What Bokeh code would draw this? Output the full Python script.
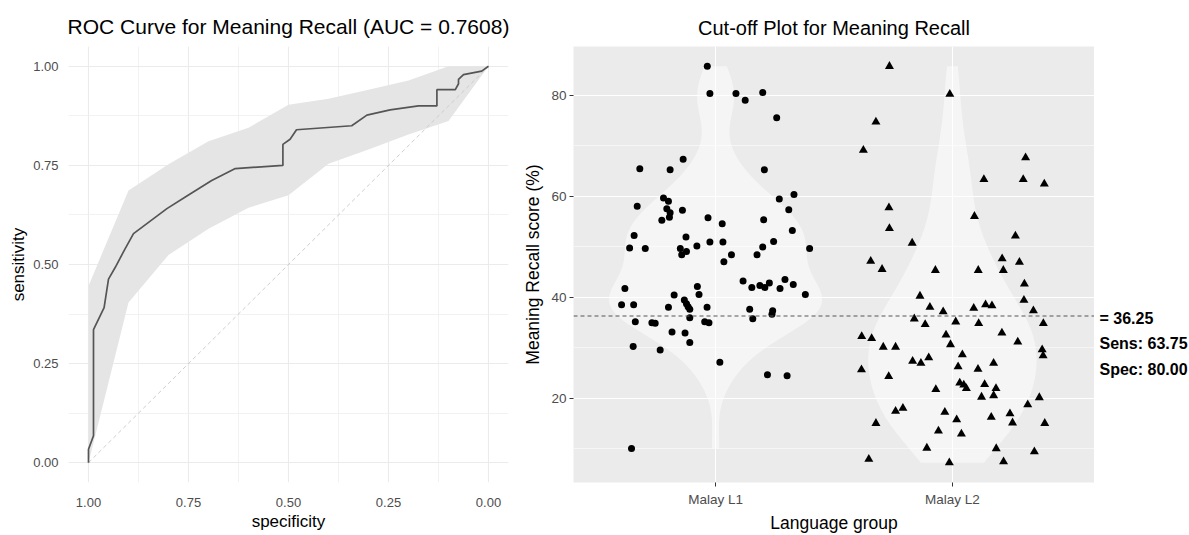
import numpy as np
from bokeh.plotting import figure
from bokeh.models import Range1d, FixedTicker, SingleIntervalTicker, Span, Label, NumeralTickFormatter
from bokeh.layouts import row
from bokeh.embed import file_html
from bokeh.resources import INLINE

FONT = "Liberation Sans"

# ---------------- ROC data ----------------
roc_spec = [1.0, 1.0, 0.9875, 0.9875, 0.961, 0.95, 0.933, 0.911, 0.8875, 0.804, 0.754, 0.692, 0.633,
            0.514, 0.514, 0.496, 0.48, 0.342, 0.304, 0.246, 0.175, 0.129, 0.129, 0.083, 0.075, 0.075,
            0.0625, 0.017, 0.0]
roc_sens = [0.0, 0.034, 0.068, 0.336, 0.391, 0.463, 0.493, 0.535, 0.578, 0.641, 0.673, 0.712, 0.742,
            0.750, 0.803, 0.816, 0.840, 0.850, 0.877, 0.890, 0.90, 0.90, 0.941, 0.941, 0.956, 0.967,
            0.979, 0.988, 1.0]
band_spec = [1.0, 0.9, 0.8, 0.7, 0.6, 0.5, 0.4, 0.3, 0.2, 0.1, 0.0]
band_upper = [0.446, 0.687, 0.753, 0.811, 0.845, 0.903, 0.918, 0.941, 0.964, 1.0, 1.0]
band_lower = [0.0, 0.404, 0.524, 0.59, 0.643, 0.675, 0.754, 0.79, 0.828, 0.862, 1.0]
roc_ticks = [0.0, 0.25, 0.5, 0.75, 1.0]
auc_value = 0.7608

# ---------------- Cut-off plot data ----------------
groups = ["Malay L1", "Malay L2"]
l1_jitter = [-0.035, -0.024, 0.086, 0.125, 0.199, 0.258, -0.137, -0.320, -0.192, 0.206, 0.331, 0.269,
             -0.220, -0.199, -0.331, 0.309, -0.206, -0.192, -0.195, -0.140, -0.227, -0.032, 0.028,
             0.203, 0.324, -0.344, -0.125, 0.245, -0.024, 0.031, -0.079, -0.363, -0.297, -0.149,
             -0.123, -0.143, 0.199, 0.397, 0.067, 0.175, 0.035,
             -0.383, -0.397, -0.346, -0.339, -0.269, -0.255, -0.348, -0.234, -0.175, -0.199, -0.132,
             -0.123, -0.116, -0.109, -0.109, -0.077, -0.070, -0.036, -0.046, -0.028, -0.184, -0.129,
             -0.109, 0.018, 0.116, 0.153, 0.187, 0.208, 0.227, 0.272, 0.293, 0.328, 0.379, 0.144,
             0.157, 0.241, 0.238, 0.219, 0.302, -0.355]
l1_score = [85.7, 80.3, 80.3, 79.0, 80.5, 75.5, 67.3, 65.4, 65.2, 65.2, 60.3, 59.4, 59.6, 59.0, 58.0,
            57.3, 57.5, 56.7, 55.8, 57.2, 55.2, 55.7, 54.5, 55.3, 53.2, 52.2, 51.9, 51.0, 50.9, 50.9,
            50.1, 49.7, 49.6, 49.6, 49.0, 48.4, 49.9, 49.6, 48.4, 48.4, 47.0,
            41.7, 38.5, 38.5, 35.1, 34.9, 34.8, 30.2, 29.5, 40.4, 38.0, 39.4, 38.7, 38.1, 37.6, 35.9,
            42.1, 40.5, 38.0, 35.1, 34.9, 33.1, 32.9, 31.0, 27.1, 43.2, 41.9, 42.3, 41.9, 42.8, 41.7,
            43.5, 42.5, 40.5, 37.6, 35.7, 37.3, 36.6, 24.6, 24.4, 10.0]
l2_jitter = [-0.266, -0.011, -0.323, -0.376, 0.309, 0.133, 0.299, 0.388, -0.268, 0.093, -0.266, 0.266,
             -0.170, -0.345, 0.210, 0.283, -0.297, -0.072, 0.109, 0.215,
             0.304, 0.302, -0.137, -0.095, -0.039, 0.090, 0.140, 0.167, 0.342, -0.161, -0.115, 0.014,
             0.111, 0.384, -0.383, -0.341, -0.027, 0.209, 0.276, -0.008, -0.292, -0.240, 0.379, 0.383,
             0.042, -0.100, -0.168, -0.133, 0.174, 0.024, 0.108, -0.384, -0.269, 0.031, 0.048, 0.059,
             0.136, 0.184, -0.070, 0.123, 0.174, 0.367, 0.318, -0.240, -0.209, -0.032, 0.018, 0.164,
             0.243, 0.254, -0.323, 0.390, -0.059, 0.038, -0.108, 0.185, 0.346, -0.353, -0.013, 0.216]
l2_score = [85.7, 80.2, 74.7, 69.1, 67.6, 63.3, 63.3, 62.4, 57.7, 56.0, 53.6, 52.1, 50.7, 47.1, 47.6,
            46.9, 45.5, 45.3, 45.3, 45.3,
            42.6, 39.4, 40.2, 38.0, 37.1, 37.8, 38.5, 38.3, 37.3, 35.7, 34.6, 35.1, 34.8, 34.8, 32.2,
            31.8, 32.5, 32.9, 31.1, 30.6, 30.1, 30.1, 29.6, 28.4, 28.6, 28.0, 27.3, 26.9, 26.9, 26.2,
            25.7, 25.6, 24.3, 23.0, 22.6, 21.9, 22.7, 21.9, 21.7, 20.2, 20.5, 20.1, 18.7, 17.4, 18.0,
            17.2, 15.7, 16.2, 16.9, 15.1, 15.0, 15.0, 13.5, 12.9, 10.1, 10.0, 9.4, 7.9, 7.2, 7.4]
cutoff = 36.25
sens_pct = 63.75
spec_pct = 80.00
score_ticks = [20, 40, 60, 80]

# ---------------- Left: ROC ----------------
p1 = figure(width=520, height=535, output_backend="svg", toolbar_location=None,
            x_range=Range1d(1.05, -0.05), y_range=Range1d(-0.05, 1.05),
            min_border_left=68, min_border_right=12, min_border_top=46, min_border_bottom=48)
p1.title.text = "ROC Curve for Meaning Recall (AUC = %.4f)" % auc_value
p1.title.align = "center"
p1.title.text_font = FONT
p1.title.text_font_size = "21px"
p1.title.text_font_style = "normal"
p1.title.text_color = "black"
p1.title.standoff = 17
p1.outline_line_color = None

p1.varea(x=band_spec, y1=band_lower, y2=band_upper, fill_color="#E5E5E5", fill_alpha=1.0)
p1.line(x=[1, 0], y=[0, 1], line_color="#C8C8C8", line_dash="4 3", line_width=0.9)
p1.line(x=roc_spec, y=roc_sens, line_color="#555555", line_width=1.7)

minor = [0.125, 0.375, 0.625, 0.875]
for ax in (p1.xaxis[0], p1.yaxis[0]):
    ax.ticker = FixedTicker(ticks=roc_ticks, minor_ticks=minor)
    ax.formatter = NumeralTickFormatter(format="0.00")
    ax.axis_line_color = None
    ax.major_tick_line_color = None
    ax.minor_tick_line_color = None
    ax.major_label_text_font = FONT
    ax.major_label_text_font_size = "13px"
    ax.major_label_text_color = "#4D4D4D"
    ax.axis_label_text_font = FONT
    ax.axis_label_text_font_size = "17px"
    ax.axis_label_text_font_style = "normal"
    ax.axis_label_text_color = "black"
p1.xaxis.axis_label = "specificity"
p1.yaxis.axis_label = "sensitivity"
p1.xaxis.major_label_standoff = 9
p1.xaxis.axis_label_standoff = 2
p1.yaxis.major_label_standoff = 4
p1.yaxis.axis_label_standoff = 2
for g in (p1.xgrid[0], p1.ygrid[0]):
    g.grid_line_color = "#EBEBEB"
    g.grid_line_width = 1.1
    g.minor_grid_line_color = "#EFEFEF"
    g.minor_grid_line_width = 0.8

# ---------------- Right: cut-off plot ----------------
all_scores = np.array(l1_score + l2_score)
lo, hi = all_scores.min(), all_scores.max()
pad = 0.05 * (hi - lo)
score_range = Range1d(lo - pad, hi + pad)
p2 = figure(width=574, height=535, output_backend="svg", toolbar_location=None,
            x_range=Range1d(0.4, 2.6), y_range=score_range,
            min_border_left=51, min_border_right=0, min_border_top=44, min_border_bottom=47)
p2.title.text = "Cut-off Plot for Meaning Recall"
p2.title.align = "center"
p2.title.text_font = FONT
p2.title.text_font_size = "20px"
p2.title.text_font_style = "normal"
p2.title.text_color = "black"
p2.title.standoff = 16
p2.background_fill_color = "#EBEBEB"
p2.outline_line_color = None


def kde_violin(vals):
    v = np.asarray(vals, dtype=float)
    n = len(v)
    sd = v.std(ddof=1)
    q75, q25 = np.percentile(v, [75, 25])
    bw = 0.9 * min(sd, (q75 - q25) / 1.34) * n ** -0.2
    ys = np.linspace(v.min(), v.max(), 512)
    d = np.exp(-0.5 * ((ys[:, None] - v[None, :]) / bw) ** 2).sum(axis=1) / (n * bw * np.sqrt(2 * np.pi))
    return ys, d


v1 = kde_violin(l1_score)
v2 = kde_violin(l2_score)
dmax = max(v1[1].max(), v2[1].max())
for k, (ys, d) in enumerate((v1, v2)):
    hw = 0.45 * d / dmax
    cx = k + 1
    xs = np.concatenate([cx - hw, (cx + hw)[::-1]])
    yy = np.concatenate([ys, ys[::-1]])
    p2.patch(x=xs, y=yy, fill_color="white", fill_alpha=0.5, line_color=None)

p2.scatter(x=[1 + j for j in l1_jitter], y=l1_score, marker="circle", size=7,
           fill_color="black", line_color=None)
p2.scatter(x=[2 + j for j in l2_jitter], y=l2_score, marker="triangle", size=9,
           fill_color="black", line_color=None)

p2.add_layout(Span(location=cutoff, dimension="width", line_color="#555555",
                   line_dash="4 3", line_width=1))

p2.xaxis.ticker = FixedTicker(ticks=[1, 2])
p2.xaxis.major_label_overrides = {1: groups[0], 2: groups[1]}
p2.yaxis.ticker = SingleIntervalTicker(interval=20, num_minor_ticks=2)
for ax in (p2.xaxis[0], p2.yaxis[0]):
    ax.axis_line_color = None
    ax.major_tick_line_color = "#333333"
    ax.major_tick_out = 4
    ax.major_tick_in = 0
    ax.minor_tick_line_color = None
    ax.major_label_text_font = FONT
    ax.major_label_text_font_size = "13.5px"
    ax.major_label_text_color = "#4D4D4D"
    ax.axis_label_text_font = FONT
    ax.axis_label_text_font_size = "17.5px"
    ax.axis_label_text_font_style = "normal"
    ax.axis_label_text_color = "black"
p2.xaxis.axis_label = "Language group"
p2.yaxis.axis_label = "Meaning Recall score (%)"
p2.xaxis.major_label_standoff = 5
p2.xaxis.axis_label_standoff = 3
p2.yaxis.major_label_standoff = 3
p2.yaxis.axis_label_standoff = 5
p2.xgrid.grid_line_color = "white"
p2.xgrid.grid_line_width = 1.1
p2.ygrid.grid_line_color = "white"
p2.ygrid.grid_line_width = 1.1
p2.ygrid.minor_grid_line_color = "white"
p2.ygrid.minor_grid_line_width = 0.55

# ---------------- Annotation strip (cut-off texts beside the panel) ----------------
p3 = figure(width=95, height=535, output_backend="svg", toolbar_location=None,
            x_range=Range1d(0, 1), y_range=score_range,
            x_axis_location=None, y_axis_location=None,
            min_border_left=0, min_border_right=0, min_border_top=44, min_border_bottom=47)
p3.grid.visible = False
p3.outline_line_color = None
texts = ["= %.2f" % cutoff, "Sens: %.2f" % sens_pct, "Spec: %.2f" % spec_pct]
for i, t in enumerate(texts):
    p3.add_layout(Label(x=0, y=cutoff, x_offset=5, y_offset=-2 - 25.5 * i, text=t,
                        text_baseline="middle", text_align="left", text_font=FONT,
                        text_font_size="16px", text_font_style="bold", text_color="black"))

layout = row(p1, p2, p3)
open("out.html", "w").write(file_html(layout, INLINE))
